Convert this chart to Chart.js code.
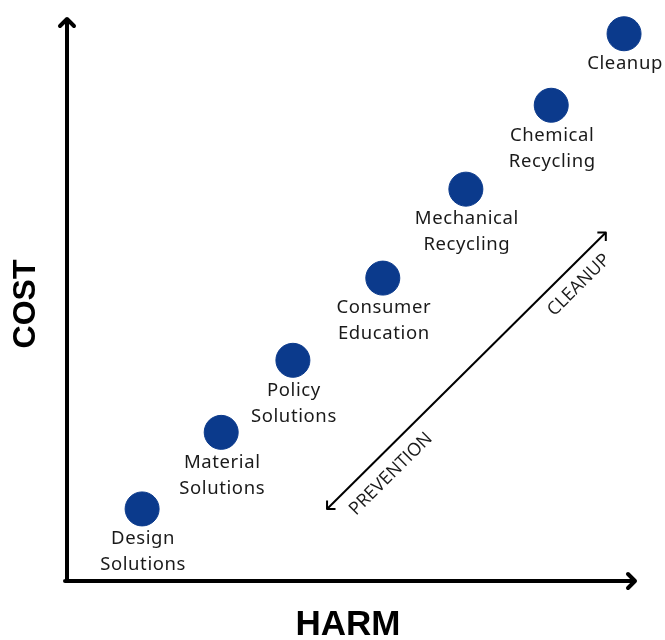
<!DOCTYPE html>
<html>
<head>
<meta charset="utf-8">
<script src="https://cdn.jsdelivr.net/npm/chart.js@4"></script>
<style>
  html, body { margin: 0; padding: 0; background: #fff; }
  #wrap { width: 665px; height: 640px; }
</style>
</head>
<body>
<div id="wrap"><canvas id="harmChart" width="665" height="640"></canvas></div>
<script>
// strategies placed on harm (x) vs cost (y), arbitrary 0-100 units
const strategies = [
  ["Design", "Solutions"],
  ["Material", "Solutions"],
  ["Policy", "Solutions"],
  ["Consumer", "Education"],
  ["Mechanical", "Recycling"],
  ["Chemical", "Recycling"],
  ["Cleanup"]
];
const harm = [13.2, 27.1, 39.7, 55.5, 70.1, 85.1, 97.9];
const cost = [12.8, 26.4, 39.2, 53.8, 69.6, 84.5, 97.2];

// double-headed arrow: prevention end -> cleanup end
const spectrumHarm = [45.7, 94.7];
const spectrumCost = [12.8, 61.9];
const spectrumLabels = ["PREVENTION", "CLEANUP"];

const xTitle = "HARM";
const yTitle = "COST";

const DOT = "#0b3a8c";
const INK = "#1a1a1a";
const labelFont = "18.5px 'Noto Sans', sans-serif";

function chevron(c, x, y, angle, size) {
    c.save();
    c.translate(x, y);
    c.rotate(angle);
    c.beginPath();
    c.moveTo(-size, -size);
    c.lineTo(0, 0);
    c.lineTo(-size, size);
    c.stroke();
    c.restore();
}

const decorPlugin = {
    id: "decor",
    beforeDatasetsDraw(chart) {
        const c = chart.ctx;
        const a = chart.chartArea;
        const xs = chart.scales.x, ys = chart.scales.y;

        // axes with arrow heads
        c.save();
        c.strokeStyle = "#000";
        c.lineWidth = 4;
        c.lineCap = "round";
        c.lineJoin = "round";
        c.beginPath();
        c.moveTo(a.left, a.bottom);
        c.lineTo(a.left, a.top + 2);
        c.moveTo(a.left - 2, a.bottom);
        c.lineTo(a.right - 2, a.bottom);
        c.stroke();
        chevron(c, a.left, a.top + 1, -Math.PI / 2, 7);
        chevron(c, a.right - 1, a.bottom, 0, 7);

        // axis titles
        c.fillStyle = "#000";
        c.textAlign = "center";
        c.textBaseline = "middle";
        c.font = "bold 35px 'Liberation Sans', Arial, sans-serif";
        c.fillText(xTitle, 348, 625);
        c.font = "bold 32px 'Liberation Sans', Arial, sans-serif";
        c.save();
        c.translate(26, 304);
        c.rotate(-Math.PI / 2);
        c.fillText(yTitle, 0, 0);
        c.restore();

        // prevention / cleanup spectrum
        const x0 = xs.getPixelForValue(spectrumHarm[0]), y0 = ys.getPixelForValue(spectrumCost[0]);
        const x1 = xs.getPixelForValue(spectrumHarm[1]), y1 = ys.getPixelForValue(spectrumCost[1]);
        const ang = Math.atan2(y1 - y0, x1 - x0);
        c.lineWidth = 2;
        c.lineCap = "butt";
        c.beginPath();
        c.moveTo(x0, y0);
        c.lineTo(x1, y1);
        c.stroke();
        chevron(c, x1, y1, ang, 6);
        chevron(c, x0, y0, ang + Math.PI, 6);

        c.font = "18px 'Open Sans', sans-serif";
        c.fillStyle = INK;
        const spots = [[391, 474], [579, 285]];
        spectrumLabels.forEach((t, i) => {
            c.save();
            c.translate(spots[i][0], spots[i][1]);
            c.rotate(ang);
            c.fillText(t, 0, 0);
            c.restore();
        });
        c.restore();
    },
    afterDatasetsDraw(chart) {
        const c = chart.ctx;
        const meta = chart.getDatasetMeta(0);
        c.save();
        c.font = labelFont;
        c.letterSpacing = "0.6px";
        c.fillStyle = INK;
        c.textAlign = "center";
        c.textBaseline = "middle";
        meta.data.forEach((pt, i) => {
            strategies[i].forEach((line, j) => {
                c.fillText(line, pt.x + 1, pt.y + 30 + j * 26);
            });
        });
        c.restore();
    }
};

new Chart(document.getElementById("harmChart"), {
    type: "scatter",
    data: {
        datasets: [{
            data: harm.map((h, i) => ({ x: h, y: cost[i] })),
            backgroundColor: DOT,
            borderColor: DOT,
            pointRadius: 17,
            pointHoverRadius: 17,
            clip: false
        }]
    },
    options: {
        responsive: false,
        animation: false,
        layout: { padding: { left: 67, right: 29, top: 12, bottom: 59 } },
        plugins: { legend: { display: false }, tooltip: { enabled: false } },
        scales: {
            x: { display: false, min: 0, max: 100 },
            y: { display: false, min: 0, max: 100 }
        }
    },
    plugins: [decorPlugin]
});
</script>
</body>
</html>
